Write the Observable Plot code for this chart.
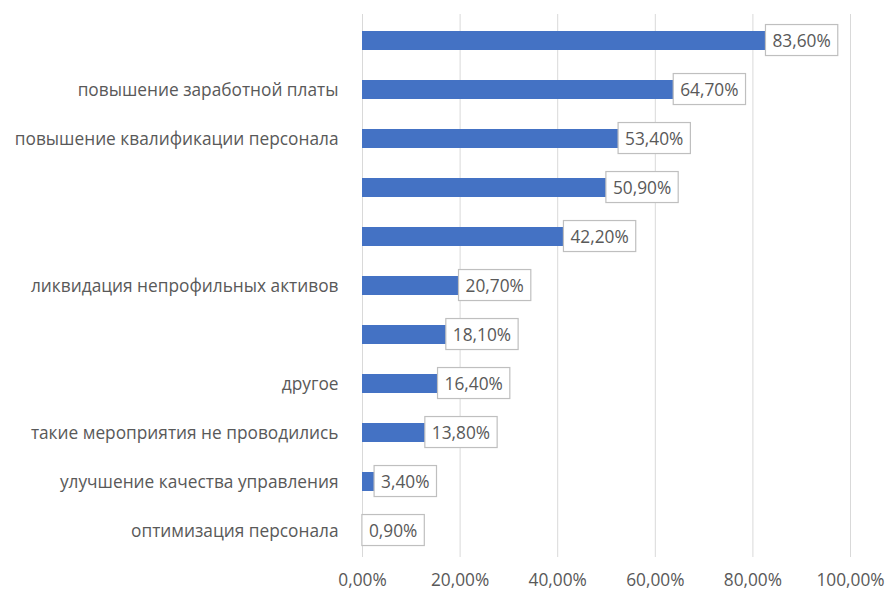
<!DOCTYPE html>
<html>
<head>
<meta charset="utf-8">
<script src="https://cdn.jsdelivr.net/npm/d3@7"></script>
<script src="https://cdn.jsdelivr.net/npm/@observablehq/plot@0.6"></script>
<style>
  html, body { margin: 0; padding: 0; background: #fff; }
</style>
</head>
<body>
<div id="chart"></div>
<script>
const categories = [
  "",
  "повышение заработной платы",
  "повышение квалификации персонала",
  "",
  "",
  "ликвидация непрофильных активов",
  "",
  "другое",
  "такие мероприятия не проводились",
  "улучшение качества управления",
  "оптимизация персонала"
];
const values = [83.6, 64.7, 53.4, 50.9, 42.2, 20.7, 18.1, 16.4, 13.8, 3.4, 0.9];
const xTicks = [0, 20, 40, 60, 80, 100];

const fmt = v => v.toFixed(2).replace(".", ",") + "%";
const data = values.map((v, i) => ({i, v}));
const FONT = "17.3px";

const chart = Plot.plot({
  width: 888,
  height: 592,
  marginLeft: 362,
  marginRight: 38,
  marginTop: 14,
  marginBottom: 35,
  style: {fontFamily: "'Open Sans', sans-serif", fontSize: FONT, color: "#595959", background: "#fff"},
  x: {domain: [0, 100]},
  y: {domain: d3.range(values.length), paddingInner: 0.615, paddingOuter: 0.3075},
  marks: [
    Plot.gridX(xTicks, {stroke: "#d9d9d9", strokeOpacity: 1}),
    Plot.axisX(xTicks, {tickSize: 0, tickPadding: 16, tickFormat: fmt, fontSize: FONT, label: null}),
    Plot.axisY({tickSize: 0, tickPadding: 24, tickFormat: i => categories[i], fontSize: FONT, label: null}),
    Plot.barX(data, {x: "v", y: "i", fill: "#4472c4"}),
    Plot.text(data, {x: "v", y: "i", text: d => fmt(d.v), textAnchor: "start", dx: 2, fill: "#595959", fontSize: FONT})
  ]
});
document.getElementById("chart").appendChild(chart);

// draw the bordered box behind each value label
const svg = chart.tagName === "svg" ? chart : chart.querySelector("svg");
svg.querySelectorAll('g[aria-label="text"] text').forEach(t => {
  const b = t.getBBox();
  const padX = 7, padY = 4;
  const r = document.createElementNS("http://www.w3.org/2000/svg", "rect");
  r.setAttribute("x", b.x - padX);
  r.setAttribute("y", b.y - padY);
  r.setAttribute("width", b.width + 2 * padX);
  r.setAttribute("height", b.height + 2 * padY);
  r.setAttribute("fill", "#fff");
  r.setAttribute("stroke", "#bfbfbf");
  r.setAttribute("stroke-width", "1.2");
  const tr = t.getAttribute("transform");
  if (tr) r.setAttribute("transform", tr);
  t.parentNode.insertBefore(r, t);
});
</script>
</body>
</html>
